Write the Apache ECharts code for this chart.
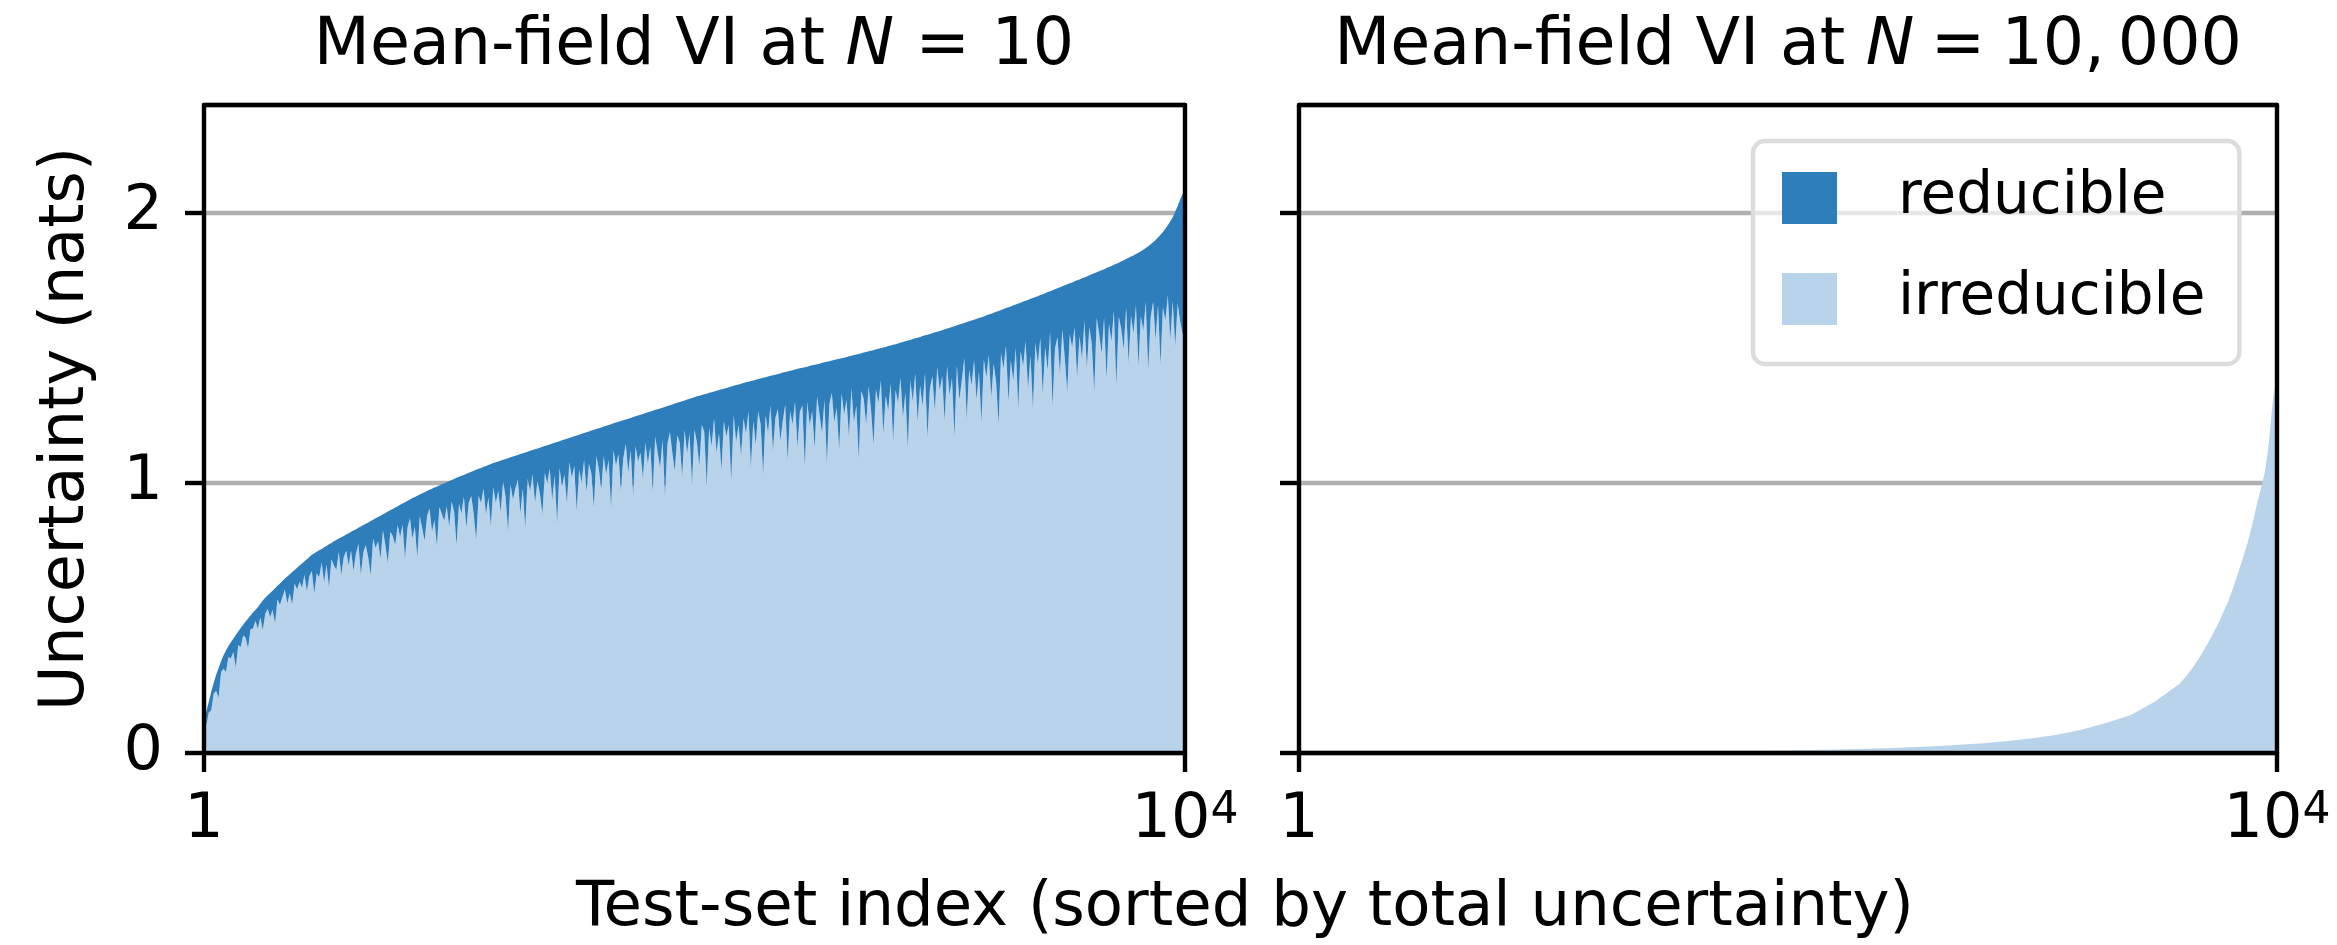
<!DOCTYPE html>
<html><head><meta charset="utf-8">
<script src="https://cdn.jsdelivr.net/npm/echarts@6/dist/echarts.min.js"></script>
<style>html,body{margin:0;padding:0;background:#fff}#c{width:2337px;height:945px}</style>
</head><body><div id="c"></div><script>
// ---------- data ----------
// \u2004 / \u2005 / \u2009: spaces sized like the math spacing of the original titles
const titles = ['Mean-field VI at {i|N}\u2004=\u200410', 'Mean-field VI at {i|N}\u2005=\u200510,\u2009000'];
const seriesNames = ['reducible', 'irreducible'];
const xTickValues = [1, 10000];
const yTickValues = [0, 1, 2];

// left panel: sample positions every 25 test points (1, 25, 50, ..., 10000)
const leftIdx = [];
for (let i = 0; i <= 400; i++) leftIdx.push(i === 0 ? 1 : i * 25);

// total uncertainty (top of the dark band), left panel; one row per 500 test points
const leftTotal = [
  0.13,0.155,0.19,0.228,0.26,0.29,0.315,0.34,0.362,0.38,0.396,0.41,0.424,0.437,0.45,0.463,0.475,0.487,0.498,0.509,
  0.52,0.53,0.54,0.553,0.565,0.575,0.584,0.593,0.601,0.61,0.619,0.628,0.637,0.646,0.654,0.662,0.67,0.678,0.686,0.694,
  0.702,0.71,0.718,0.726,0.734,0.74,0.745,0.751,0.756,0.762,0.767,0.773,0.778,0.784,0.789,0.794,0.799,0.804,0.809,0.814,
  0.819,0.824,0.829,0.834,0.839,0.844,0.849,0.854,0.859,0.864,0.869,0.874,0.879,0.884,0.889,0.894,0.899,0.904,0.909,0.914,
  0.919,0.924,0.929,0.934,0.939,0.944,0.948,0.953,0.957,0.962,0.966,0.97,0.975,0.979,0.983,0.987,0.991,0.995,0.999,1.003,
  1.007,1.011,1.015,1.019,1.023,1.027,1.03,1.034,1.038,1.042,1.045,1.049,1.053,1.056,1.06,1.063,1.067,1.07,1.074,1.077,
  1.08,1.083,1.086,1.089,1.092,1.095,1.098,1.101,1.104,1.107,1.11,1.113,1.116,1.119,1.122,1.125,1.128,1.131,1.134,1.137,
  1.14,1.143,1.146,1.149,1.152,1.155,1.158,1.161,1.164,1.167,1.17,1.173,1.176,1.179,1.182,1.185,1.188,1.191,1.194,1.197,
  1.2,1.203,1.206,1.209,1.212,1.215,1.218,1.221,1.224,1.227,1.23,1.232,1.235,1.238,1.241,1.244,1.247,1.25,1.253,1.256,
  1.259,1.262,1.265,1.268,1.271,1.273,1.276,1.279,1.282,1.285,1.288,1.291,1.294,1.297,1.3,1.303,1.306,1.309,1.312,1.315,
  1.318,1.321,1.323,1.326,1.329,1.331,1.334,1.336,1.339,1.342,1.344,1.347,1.349,1.352,1.355,1.357,1.36,1.363,1.365,1.368,
  1.37,1.373,1.375,1.378,1.38,1.382,1.385,1.387,1.39,1.392,1.394,1.397,1.399,1.401,1.404,1.406,1.409,1.411,1.413,1.416,
  1.418,1.42,1.423,1.425,1.427,1.429,1.431,1.434,1.436,1.438,1.44,1.442,1.445,1.447,1.449,1.451,1.454,1.456,1.458,1.46,
  1.462,1.464,1.467,1.469,1.471,1.474,1.476,1.478,1.481,1.483,1.485,1.488,1.49,1.492,1.495,1.497,1.5,1.502,1.504,1.507,
  1.509,1.512,1.514,1.517,1.52,1.522,1.525,1.528,1.53,1.533,1.536,1.538,1.541,1.544,1.547,1.549,1.552,1.555,1.558,1.56,
  1.563,1.566,1.569,1.572,1.575,1.578,1.581,1.584,1.587,1.59,1.593,1.596,1.599,1.602,1.605,1.608,1.611,1.614,1.617,1.621,
  1.624,1.627,1.631,1.634,1.637,1.641,1.644,1.648,1.651,1.654,1.658,1.661,1.665,1.668,1.672,1.675,1.678,1.682,1.685,1.689,
  1.692,1.696,1.699,1.703,1.707,1.71,1.714,1.718,1.721,1.725,1.729,1.732,1.736,1.74,1.743,1.747,1.751,1.754,1.758,1.761,
  1.765,1.769,1.773,1.777,1.781,1.784,1.788,1.792,1.796,1.8,1.804,1.808,1.812,1.816,1.821,1.825,1.83,1.834,1.839,1.843,
  1.848,1.853,1.858,1.864,1.87,1.877,1.884,1.892,1.9,1.909,1.919,1.93,1.942,1.955,1.969,1.984,2.005,2.026,2.05,2.07,
  2.085
];
// reducible part (dark band thickness), left panel; same positions
const leftReducible = [
  0.03,0.05,0.04,0.07,0.04,0.06,0.11,0.04,0.05,0.08,0.04,0.06,0.05,0.12,0.05,0.07,0.04,0.06,0.11,0.05,
  0.06,0.04,0.08,0.05,0.11,0.06,0.05,0.09,0.07,0.13,0.05,0.08,0.06,0.04,0.1,0.07,0.12,0.05,0.08,0.06,
  0.09,0.05,0.12,0.07,0.06,0.15,0.08,0.1,0.05,0.13,0.07,0.16,0.06,0.09,0.11,0.05,0.14,0.08,0.06,0.12,
  0.07,0.15,0.09,0.06,0.18,0.1,0.08,0.13,0.2,0.07,0.11,0.09,0.16,0.06,0.12,0.19,0.08,0.1,0.14,0.07,
  0.12,0.08,0.21,0.1,0.07,0.15,0.11,0.23,0.08,0.13,0.18,0.09,0.07,0.16,0.12,0.22,0.08,0.11,0.14,0.09,
  0.17,0.08,0.12,0.25,0.1,0.14,0.08,0.2,0.11,0.09,0.16,0.26,0.1,0.13,0.08,0.18,0.12,0.23,0.09,0.15,
  0.11,0.19,0.08,0.14,0.27,0.1,0.16,0.12,0.09,0.22,0.13,0.28,0.1,0.15,0.09,0.2,0.12,0.17,0.25,0.1,
  0.14,0.09,0.21,0.12,0.3,0.1,0.17,0.13,0.24,0.09,0.15,0.11,0.28,0.13,0.18,0.1,0.22,0.12,0.16,0.29,
  0.1,0.15,0.23,0.11,0.18,0.13,0.31,0.1,0.16,0.12,0.26,0.14,0.09,0.2,0.12,0.29,0.11,0.17,0.14,0.24,
  0.11,0.19,0.13,0.3,0.1,0.16,0.22,0.12,0.33,0.14,0.1,0.18,0.25,0.12,0.15,0.28,0.11,0.2,0.13,0.32,
  0.12,0.17,0.26,0.11,0.14,0.34,0.13,0.2,0.1,0.23,0.16,0.3,0.12,0.18,0.14,0.35,0.11,0.21,0.15,0.27,
  0.13,0.19,0.11,0.32,0.15,0.24,0.12,0.17,0.36,0.14,0.21,0.11,0.28,0.16,0.13,0.25,0.18,0.12,0.33,0.15,
  0.2,0.12,0.29,0.16,0.14,0.37,0.13,0.22,0.17,0.31,0.12,0.19,0.26,0.14,0.38,0.16,0.12,0.23,0.18,0.34,
  0.13,0.21,0.16,0.3,0.12,0.25,0.19,0.39,0.14,0.17,0.27,0.13,0.22,0.35,0.15,0.2,0.12,0.32,0.18,0.24,
  0.14,0.36,0.17,0.22,0.13,0.28,0.19,0.4,0.15,0.23,0.13,0.31,0.18,0.26,0.14,0.38,0.2,0.16,0.29,0.13,
  0.22,0.17,0.34,0.14,0.25,0.19,0.41,0.15,0.28,0.21,0.13,0.36,0.18,0.24,0.15,0.3,0.2,0.39,0.16,0.23,
  0.15,0.31,0.19,0.26,0.42,0.16,0.22,0.14,0.35,0.2,0.28,0.16,0.39,0.18,0.24,0.15,0.33,0.21,0.41,0.17,
  0.25,0.16,0.37,0.2,0.29,0.15,0.43,0.22,0.18,0.32,0.16,0.27,0.4,0.19,0.24,0.17,0.36,0.21,0.3,0.16,
  0.34,0.19,0.26,0.44,0.17,0.23,0.31,0.18,0.41,0.21,0.28,0.17,0.45,0.2,0.25,0.33,0.18,0.39,0.22,0.29,
  0.19,0.42,0.24,0.3,0.2,0.46,0.27,0.22,0.37,0.25,0.48,0.28,0.34,0.26,0.44,0.31,0.5,0.36,0.45,0.52,
  0.5
];

// right panel
const rightIdx = [1,1000,2000,3000,4000,4500,5000,5500,6000,6500,
  7000,7250,7500,7750,8000,8250,8500,8750,9000,9050,
  9100,9150,9200,9250,9300,9350,9400,9450,9500,9550,
  9600,9650,9700,9750,9800,9850,9875,9900,9925,9950,
  9975,10000];
const rightIrreducible = [0,0,0.001,0.001,0.004,0.006,0.009,0.013,0.018,0.025,
  0.036,0.044,0.055,0.068,0.086,0.111,0.14,0.19,0.256,0.275,
  0.297,0.322,0.35,0.38,0.41,0.445,0.48,0.52,0.56,0.61,
  0.665,0.72,0.78,0.85,0.93,1.0,1.04,1.1,1.18,1.28,
  1.35,1.4];
const rightReducible = [0,0,0,0,0,0,0,0,0,0,
  0,0,0,0,0,0,0,0,0,0,
  0,0,0,0,0,0,0,0,0,0,
  0,0,0,0,0,0,0,0,0,0,
  0,0];

// ---------- style ----------
const FONT = 'DejaVu Sans';
const DARK = '#2f7ebc', LIGHT = '#b9d4ea';
const SPINE = 4.4, GRIDW = 4.4;

const panels = [
  { idx: leftIdx, irr: leftIdx.map((x, i) => +(leftTotal[i] - leftReducible[i]).toFixed(4)), red: leftReducible },
  { idx: rightIdx, irr: rightIrreducible, red: rightReducible }
];

const grids = [
  { left: 204, top: 105, width: 981, height: 648 },
  { left: 1299, top: 105, width: 978, height: 648 }
];

const xAxes = [], yAxes = [], series = [];
grids.forEach((g, gi) => {
  xAxes.push({
    gridIndex: gi, type: 'value', min: 1, max: 10000, position: 'bottom', z: 10,
    axisLine: { show: true, onZero: false, lineStyle: { color: '#000', width: SPINE } },
    axisTick: { show: true, customValues: xTickValues, length: 19, lineStyle: { color: '#000', width: SPINE } },
    axisLabel: {
      show: true, customValues: xTickValues, margin: 37, color: '#000', fontFamily: FONT, fontSize: 62,
      formatter: v => v === 10000 ? '10{sup|4}' : String(v),
      rich: { sup: { fontSize: 44, fontFamily: FONT, color: '#000', lineHeight: 20, verticalAlign: 'top' } }
    },
    splitLine: { show: false }
  });
  xAxes.push({
    gridIndex: gi, type: 'value', min: 1, max: 10000, position: 'top', z: 10,
    axisLine: { show: true, onZero: false, lineStyle: { color: '#000', width: SPINE } },
    axisTick: { show: false }, axisLabel: { show: false }, splitLine: { show: false }
  });
  // gridlines (below the areas)
  yAxes.push({
    gridIndex: gi, type: 'value', min: 0, max: 2.4, interval: 1, position: 'left', z: 0,
    axisLine: { show: false, onZero: false }, axisTick: { show: false }, axisLabel: { show: false },
    splitLine: { show: true, lineStyle: { color: '#b0b0b0', width: GRIDW } }
  });
  // left spine with ticks
  const leftAxis = {
    gridIndex: gi, type: 'value', min: 0, max: 2.4, position: 'left', z: 10,
    axisLine: { show: true, onZero: false, lineStyle: { color: '#000', width: SPINE } },
    axisTick: { show: true, customValues: yTickValues, length: 19, lineStyle: { color: '#000', width: SPINE } },
    axisLabel: { show: gi === 0, customValues: yTickValues, margin: 41, color: '#000', fontFamily: FONT, fontSize: 62 },
    splitLine: { show: false }
  };
  if (gi === 0) {
    leftAxis.name = 'Uncertainty (nats)';
    leftAxis.nameLocation = 'middle';
    leftAxis.nameRotate = 90;
    leftAxis.nameGap = 106;
    leftAxis.nameTextStyle = { fontFamily: FONT, fontSize: 62, color: '#000' };
  }
  yAxes.push(leftAxis);
  yAxes.push({
    gridIndex: gi, type: 'value', min: 0, max: 2.4, position: 'right', z: 10,
    axisLine: { show: true, onZero: false, lineStyle: { color: '#000', width: SPINE } },
    axisTick: { show: false }, axisLabel: { show: false }, splitLine: { show: false }
  });

  const p = panels[gi];
  // rows are [uncertainty, index]; encode maps them so the stack adds up the uncertainty (y) values
  const common = {
    type: 'line', xAxisIndex: gi * 2, yAxisIndex: gi * 3, stack: 'u' + gi,
    encode: { x: 1, y: 0 },
    showSymbol: false, symbol: 'none', silent: true, animation: false,
    lineStyle: { width: 0, opacity: 0 }, emphasis: { disabled: true }, z: 2
  };
  series.push(Object.assign({}, common, {
    name: 'irreducible', color: LIGHT, itemStyle: { color: LIGHT },
    areaStyle: { color: LIGHT, opacity: 1 },
    data: p.idx.map((x, i) => [p.irr[i], x])
  }));
  series.push(Object.assign({}, common, {
    name: 'reducible', color: DARK, itemStyle: { color: DARK },
    areaStyle: { color: DARK, opacity: 1 },
    data: p.idx.map((x, i) => [p.red[i], x])
  }));
});

const titleStyle = {
  fontFamily: FONT, fontSize: 65, fontWeight: 'normal', color: '#000',
  rich: { i: { fontFamily: FONT, fontSize: 65, fontStyle: 'italic', color: '#000' } }
};

const option = {
  animation: false,
  backgroundColor: '#fff',
  textStyle: { fontFamily: FONT },
  title: [
    { text: titles[0], left: 694, top: 15, textAlign: 'center', padding: 0, textStyle: titleStyle },
    { text: titles[1], left: 1788, top: 15, textAlign: 'center', padding: 0, textStyle: titleStyle },
    { text: 'Test-set index (sorted by total uncertainty)', left: 1245, top: 877, textAlign: 'center', padding: 0,
      textStyle: { fontFamily: FONT, fontSize: 62.5, fontWeight: 'normal', color: '#000' } }
  ],
  legend: {
    data: seriesNames, orient: 'vertical', left: 1753, top: 141, selectedMode: false,
    padding: [26, 34, 34, 29], itemWidth: 55, itemHeight: 52, itemGap: 39, icon: 'rect',
    textStyle: { fontFamily: FONT, fontSize: 58, color: '#000', padding: [10, 0, 0, 56], lineHeight: 52 },
    backgroundColor: 'rgba(255,255,255,0.7)', borderColor: '#dcdcdc', borderWidth: 4.4, borderRadius: 12
  },
  grid: grids,
  xAxis: xAxes,
  yAxis: yAxes,
  series: series
};

const chart = echarts.init(document.getElementById('c'), null, { renderer: 'canvas', width: 2337, height: 945 });
chart.setOption(option);
</script></body></html>
